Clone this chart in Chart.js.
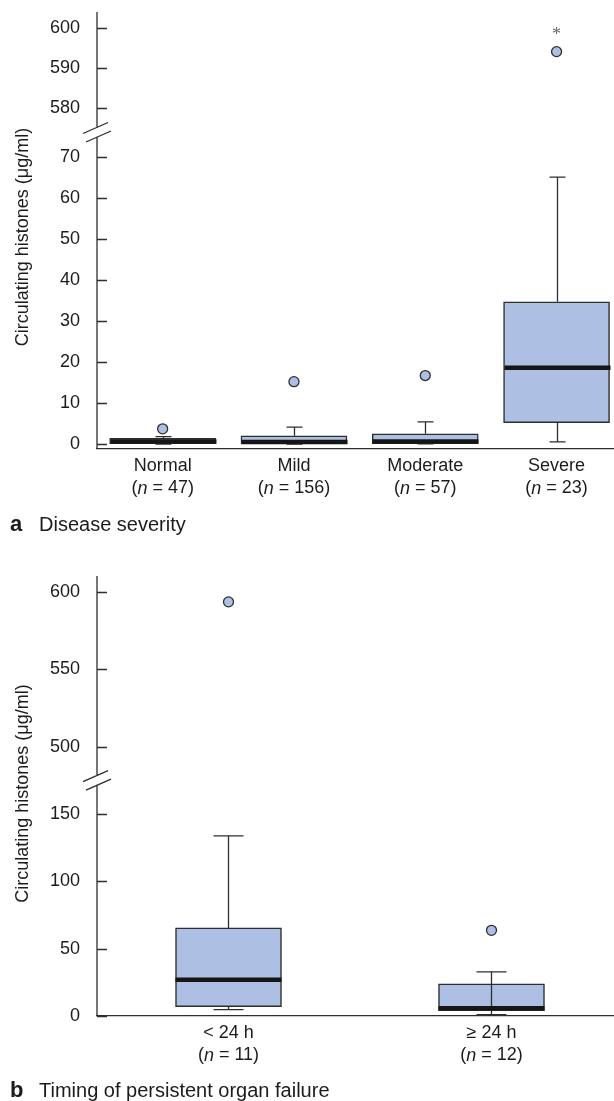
<!DOCTYPE html>
<html lang="en">
<head>
<meta charset="UTF-8">
<title>Circulating histones</title>
<script src="https://cdn.jsdelivr.net/npm/chart.js"></script>
<style>
  body { margin: 0; background: #fff; }
  canvas { display: block; }
</style>
</head>
<body>
<canvas id="chartA" width="614" height="550"></canvas>
<canvas id="chartB" width="614" height="551"></canvas>
<script>
// a: disease severity
const severityLabels = ['Normal', 'Mild', 'Moderate', 'Severe'];
const severityN = [47, 156, 57, 23];
const severityLow = [0, 0, 0.05, 0.5];
const severityQ1 = [0.1, 0.1, 0.1, 5.2];
const severityMedian = [0.6, 0.5, 0.6, 18.6];
const severityQ3 = [1.4, 2.0, 2.5, 34.7];
const severityHigh = [1.8, 4.1, 5.4, 65.1];
const severityOutliers = [[3.7], [15.2], [16.7], [594.1]];
const severityTicks = [0, 10, 20, 30, 40, 50, 60, 70, 580, 590, 600];

// b: timing of persistent organ failure
const timingLabels = ['< 24 h', '≥ 24 h'];
const timingN = [11, 12];
const timingLow = [4.7, 1.0];
const timingQ1 = [6.9, 4.0];
const timingMedian = [27.0, 5.8];
const timingQ3 = [65.4, 23.8];
const timingHigh = [133.7, 32.7];
const timingOutliers = [[593.5], [63.6]];
const timingTicks = [0, 50, 100, 150, 500, 550, 600];

const FONT = '"Liberation Sans", Arial, Helvetica, sans-serif';
const BOX = 'rgb(173, 192, 228)';
const INK = '#2e2e2e';
const TEXT = '#1c1c1c';

// broken axis: values above lowTop are moved down next to the lower part
function brokenAxis(lowTop, upFrom, upAt, ratio) {
  return v => v <= lowTop ? v : upAt + (v - upFrom) * ratio;
}

function makePanel(id, p) {
  const boxes = p.labels.map((_, i) => ({ x: i, y: [p.tf(p.q1[i]), p.tf(p.q3[i])] }));
  const points = [];
  p.outliers.forEach((list, i) => list.forEach(v => points.push({ x: i, y: p.tf(v) })));

  const parts = {
    id: 'boxParts',
    afterDatasetsDraw(chart) {
      const { ctx, scales: { x, y } } = chart;
      ctx.save();
      p.labels.forEach((_, i) => {
        const cx = Math.round(x.getPixelForValue(i)) + 0.5;
        const yLow = y.getPixelForValue(p.tf(p.low[i]));
        const yQ1 = y.getPixelForValue(p.tf(p.q1[i]));
        const yQ3 = y.getPixelForValue(p.tf(p.q3[i]));
        const yHigh = y.getPixelForValue(p.tf(p.high[i]));
        const yMed = y.getPixelForValue(p.tf(p.median[i]));
        ctx.strokeStyle = INK;
        ctx.lineWidth = 1.3;
        ctx.beginPath();
        if (p.through[i]) {
          ctx.moveTo(cx, yLow); ctx.lineTo(cx, yHigh);
        } else {
          ctx.moveTo(cx, yHigh); ctx.lineTo(cx, yQ3);
          ctx.moveTo(cx, yQ1); ctx.lineTo(cx, yLow);
        }
        ctx.moveTo(cx - p.cap / 2, yHigh); ctx.lineTo(cx + p.cap / 2, yHigh);
        ctx.moveTo(cx - p.cap / 2, yLow); ctx.lineTo(cx + p.cap / 2, yLow);
        ctx.stroke();
        // median
        ctx.strokeStyle = '#151515';
        ctx.lineWidth = 4.5;
        ctx.beginPath();
        ctx.moveTo(cx - p.boxWidth / 2, yMed);
        ctx.lineTo(cx + p.boxWidth / 2, yMed);
        ctx.stroke();
      });
      ctx.restore();
    },
    afterDraw(chart) {
      const { ctx, chartArea: a, scales: { x, y } } = chart;
      const left = a.left;
      ctx.save();
      // y axis line with a gap at the break
      const gy = y.getPixelForValue(p.breakAt);
      ctx.strokeStyle = INK;
      ctx.lineWidth = 1.3;
      ctx.beginPath();
      ctx.moveTo(left, a.top); ctx.lineTo(left, gy - 4);
      ctx.moveTo(left, gy + 4.5); ctx.lineTo(left, a.bottom);
      // inward tick marks
      p.ticks.forEach(v => {
        const ty = Math.round(y.getPixelForValue(p.tf(v))) + 0.5;
        ctx.moveTo(left, ty); ctx.lineTo(left + 10, ty);
      });
      // break slashes
      [[-1.5, -4], [1.5, 4.5]].forEach(([ox, oy]) => {
        ctx.moveTo(left + ox - 12.5, gy + oy + 5.5);
        ctx.lineTo(left + ox + 12.5, gy + oy - 5.5);
      });
      ctx.stroke();

      // category labels
      ctx.fillStyle = TEXT;
      ctx.textBaseline = 'middle';
      ctx.textAlign = 'left';
      p.labels.forEach((lab, i) => {
        const cx = x.getPixelForValue(i);
        ctx.font = '18px ' + FONT;
        const w1 = ctx.measureText(lab).width;
        ctx.fillText(lab, cx - w1 / 2, a.bottom + 17.5);
        const bits = [['(', ''], ['n', 'italic '], [' = ' + p.n[i] + ')', '']];
        let total = 0;
        bits.forEach(b => { ctx.font = b[1] + '18px ' + FONT; total += ctx.measureText(b[0]).width; });
        let px = cx - total / 2;
        bits.forEach(b => {
          ctx.font = b[1] + '18px ' + FONT;
          ctx.fillText(b[0], px, a.bottom + 39.5);
          px += ctx.measureText(b[0]).width;
        });
      });

      // asterisk over the marked outlier
      if (p.starGroup != null) {
        ctx.fillStyle = '#666';
        ctx.font = '18px "Liberation Serif", serif';
        ctx.textAlign = 'center';
        ctx.textBaseline = 'alphabetic';
        p.outliers[p.starGroup].forEach(v => {
          ctx.fillText('*', x.getPixelForValue(p.starGroup), y.getPixelForValue(p.tf(v)) - 12);
        });
      }

      // caption
      ctx.fillStyle = TEXT;
      ctx.textAlign = 'left';
      ctx.textBaseline = 'alphabetic';
      ctx.font = 'bold 22px ' + FONT;
      ctx.fillText(p.letter, 10, a.bottom + p.captionDy);
      ctx.font = '20px ' + FONT;
      ctx.fillText(p.caption, 39, a.bottom + p.captionDy);

      // y title
      ctx.translate(23, p.titleY);
      ctx.rotate(-Math.PI / 2);
      ctx.textAlign = 'center';
      ctx.textBaseline = 'middle';
      ctx.font = '18px ' + FONT;
      ctx.fillText('Circulating histones (μg/ml)', 0, 0);
      ctx.restore();
    }
  };

  return new Chart(document.getElementById(id), {
    type: 'bar',
    data: {
      datasets: [
        { type: 'bar', data: boxes, backgroundColor: BOX, borderColor: INK, borderWidth: 1.5,
          borderSkipped: false, barThickness: p.boxWidth, order: 2 },
        { type: 'scatter', data: points, pointRadius: 5, pointBackgroundColor: BOX,
          pointBorderColor: INK, pointBorderWidth: 1.3, order: 1, clip: false }
      ]
    },
    options: {
      responsive: false,
      animation: false,
      layout: { autoPadding: false, padding: { top: p.top, left: 0, right: 0, bottom: 0 } },
      plugins: { legend: { display: false }, tooltip: { enabled: false } },
      scales: {
        x: {
          type: 'linear', min: -0.5, max: p.xMax, offset: false,
          grid: { display: false, drawTicks: false, offset: false },
          border: { display: true, color: INK, width: 1.3 },
          ticks: { display: false },
          afterFit: s => { s.height = p.below; s.paddingLeft = 0; s.paddingRight = 0; }
        },
        y: {
          type: 'linear', min: p.yMin, max: p.yMax,
          grid: { display: false, drawTicks: false },
          border: { display: false },
          afterBuildTicks: s => { s.ticks = p.ticks.map(v => ({ value: p.tf(v) })); },
          ticks: {
            autoSkip: false, padding: 17, color: TEXT,
            font: { size: 18, family: FONT },
            callback: (v, i) => String(p.ticks[i])
          },
          afterFit: s => { s.width = 97; s.paddingTop = 0; s.paddingBottom = 0; }
        }
      }
    },
    plugins: [parts]
  });
}

makePanel('chartA', {
  labels: severityLabels, n: severityN,
  low: severityLow, q1: severityQ1, median: severityMedian, q3: severityQ3, high: severityHigh,
  outliers: severityOutliers, ticks: severityTicks,
  tf: brokenAxis(75, 580, 81.95, 0.9756), breakAt: 76.1,
  yMin: -1.22, yMax: 105.37, xMax: 3.4375,
  top: 12, below: 101, boxWidth: 106, cap: 16,
  through: [false, false, false, false], starGroup: 3,
  letter: 'a', caption: 'Disease severity', captionDy: 82, titleY: 237
});

makePanel('chartB', {
  labels: timingLabels, n: timingN,
  low: timingLow, q1: timingQ1, median: timingMedian, q3: timingQ3, high: timingHigh,
  outliers: timingOutliers, ticks: timingTicks,
  tf: brokenAxis(175, 500, 199.9, 1.1507), breakAt: 175.2,
  yMin: 0, yMax: 326.7, xMax: 1.4658,
  top: 26, below: 85, boxWidth: 106, cap: 30,
  through: [false, true], starGroup: null,
  letter: 'b', caption: 'Timing of persistent organ failure', captionDy: 81, titleY: 243.5
});
</script>
</body>
</html>
